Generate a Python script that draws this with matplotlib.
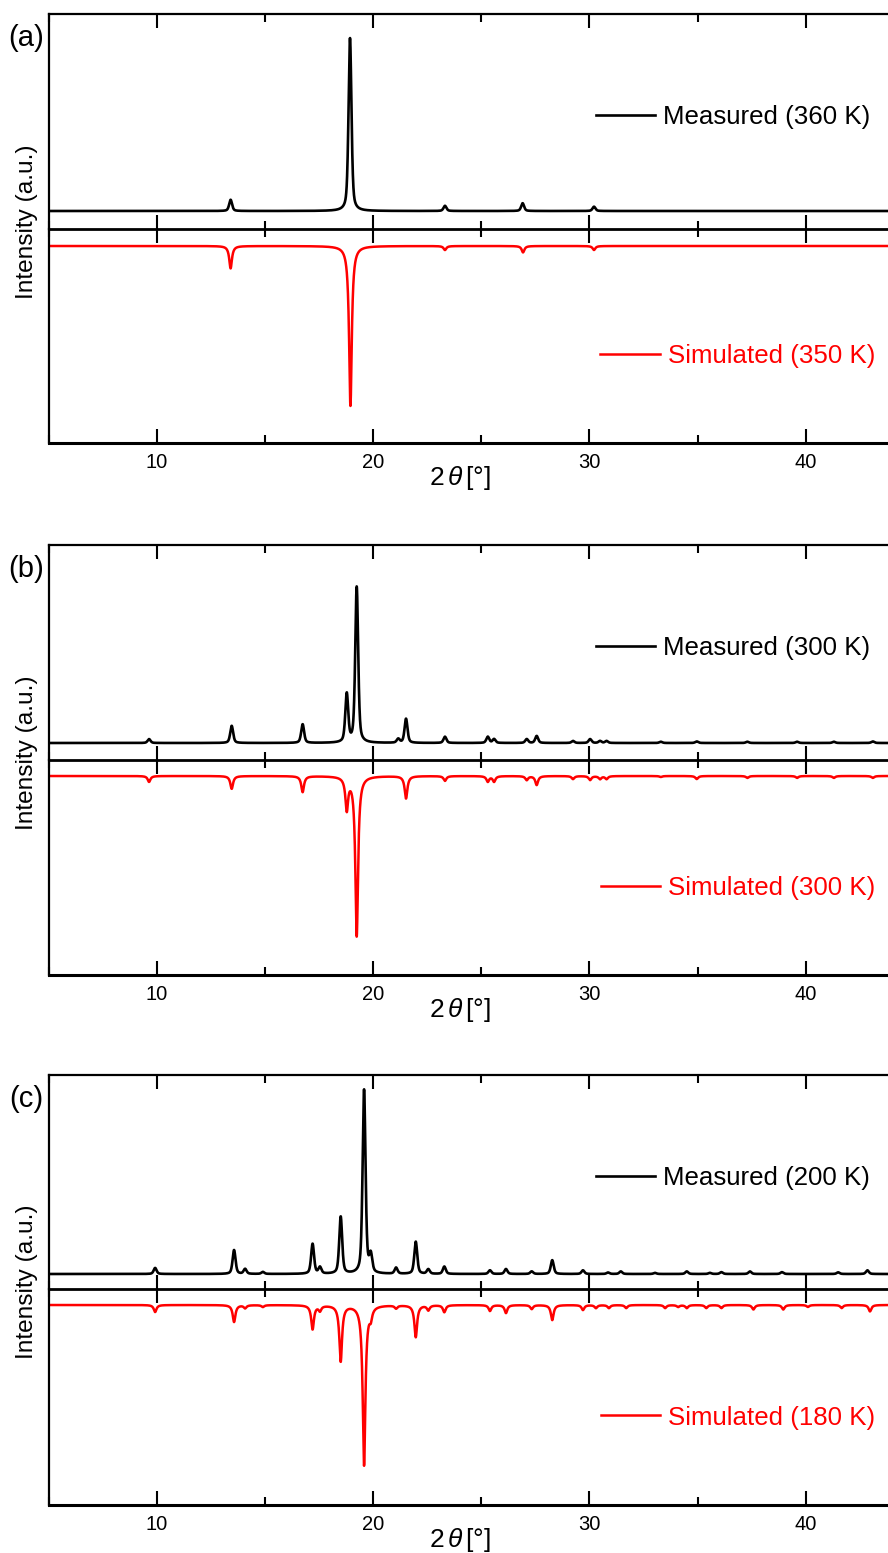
import numpy as np
import matplotlib.pyplot as plt
from matplotlib.ticker import MultipleLocator

plt.rcParams['font.family'] = ['Liberation Sans', 'DejaVu Sans']
plt.rcParams['mathtext.fontset'] = 'custom'
plt.rcParams['mathtext.rm'] = 'Liberation Sans'
plt.rcParams['mathtext.it'] = 'Liberation Sans:italic'

# peak tables: 2theta [deg], height [% of strongest peak]
meas_pos_a = [13.41, 18.93, 23.32, 26.91, 30.21]
meas_int_a = [6.5, 100, 3.0, 4.5, 2.5]
sim_pos_a = [13.41, 18.95, 23.32, 26.93, 30.21]
sim_int_a = [14, 100, 2.5, 4.0, 2.5]

meas_pos_b = [9.64, 13.46, 16.74, 18.78, 19.24, 21.16, 21.52, 23.32, 25.30, 25.59,
              27.10, 27.56, 29.24, 30.03, 30.49, 30.79, 33.3, 34.96, 37.3, 39.6,
              41.3, 43.1]
meas_int_b = [2.5, 11, 12, 31, 100, 2.5, 15.5, 4.0, 4.0, 2.5,
              2.5, 4.5, 1.3, 2.5, 1.3, 1.3, 0.8, 1.0, 0.8, 0.8,
              0.8, 1.0]
sim_pos_b = [9.64, 13.46, 16.74, 18.78, 19.24, 21.52, 23.32, 25.30, 25.59, 27.10,
             27.56, 29.24, 30.03, 30.49, 30.79, 33.3, 34.96, 37.3, 39.6, 41.3,
             43.1]
sim_int_b = [3.7, 8, 10, 20, 100, 14, 3.0, 3.5, 3.5, 2.5,
             5.6, 1.9, 2.5, 1.9, 1.9, 0.6, 1.9, 1.2, 1.2, 1.2,
             1.2]

meas_pos_c = [9.92, 13.57, 14.08, 14.9, 17.2, 17.54, 18.5, 19.58, 19.89, 21.06,
              21.97, 22.55, 23.29, 25.4, 26.14, 27.33, 28.28, 29.7, 30.86, 31.45,
              33.03, 34.5, 35.57, 36.1, 37.42, 38.9, 41.5, 42.85]
meas_int_c = [3.3, 13, 2.7, 1.1, 16.3, 3.5, 31, 100, 9.4, 3.3,
              17.5, 2.5, 4.0, 2.0, 2.7, 1.4, 7.5, 2.0, 0.8, 1.4,
              0.6, 1.4, 0.6, 1.0, 1.4, 1.0, 0.9, 2.0]
sim_pos_c = [9.92, 13.57, 14.08, 14.9, 17.2, 17.54, 18.5, 19.58, 19.89, 21.06,
             21.97, 22.55, 23.29, 25.4, 26.14, 27.33, 28.28, 29.7, 30.3, 30.9,
             31.7, 33.5, 34.1, 34.5, 35.4, 36.1, 37.58, 38.96, 40.1, 41.66,
             42.97]
sim_int_c = [4.4, 10.6, 1.9, 1.2, 15, 3.2, 35, 100, 6.0, 1.9,
             20, 3.1, 4.4, 3.7, 5.0, 2.5, 9.4, 3.1, 1.9, 1.9,
             1.9, 1.9, 1.2, 1.9, 1.9, 1.9, 2.8, 2.8, 1.2, 1.9,
             4.0]

panel_tags = ['(a)', '(b)', '(c)']
meas_labels = ['Measured (360 K)', 'Measured (300 K)', 'Measured (200 K)']
sim_labels = ['Simulated (350 K)', 'Simulated (300 K)', 'Simulated (180 K)']

meas_peaks = [(meas_pos_a, meas_int_a), (meas_pos_b, meas_int_b), (meas_pos_c, meas_int_c)]
sim_peaks = [(sim_pos_a, sim_int_a), (sim_pos_b, sim_int_b), (sim_pos_c, sim_int_c)]


def profile(tt, pos, amp, fwhm, eta):
    # pseudo-Voigt sum of the peak table
    y = np.zeros_like(tt)
    hw = fwhm / 2.
    for p, a in zip(pos, amp):
        d = (tt - p) / hw
        y += a * (eta / (1. + d**2) + (1. - eta) * np.exp(-np.log(2.) * d**2))
    return y


W, H = 888., 1553.
fig = plt.figure(figsize=(W / 100., H / 100.), dpi=100)

x0 = 48.7 / W
tops = [14, 545, 1075]
mids = [229, 760, 1289]
bots = [443, 975, 1505]
# baseline offset / peak height in pixels (measured, simulated)
meas_px = [(18, 173), (17, 156), (15, 184)]
sim_px = [(17, 160), (16, 160), (16, 160)]

tt = np.linspace(5., 44., 6000)

for i in range(3):
    top, mid, bot = tops[i], mids[i], bots[i]
    ax_m = fig.add_axes([x0, 1 - mid / H, 1 - x0, (mid - top) / H])
    ax_s = fig.add_axes([x0, 1 - bot / H, 1 - x0, (bot - mid) / H], sharex=ax_m)
    ax_s.patch.set_visible(False)

    ym = profile(tt, meas_peaks[i][0], meas_peaks[i][1], 0.16, 0.5)
    ys = profile(tt, sim_peaks[i][0], sim_peaks[i][1], 0.15, 1.0)

    ax_m.plot(tt, ym, c='k', lw=1.9, label=meas_labels[i])
    ax_s.plot(tt, -ys, c='#ff0000', lw=1.8, label=sim_labels[i])

    b, h = meas_px[i]
    ax_m.set_ylim(-b / h * 100., (mid - top - b) / h * 100.)
    s, d = sim_px[i]
    ax_s.set_ylim(-(bot - mid - s) / d * 100., s / d * 100.)
    ax_m.set_xlim(5., 5. + (W - 48.7) / 21.63)

    for ax in (ax_m, ax_s):
        ax.set_yticks([])
        ax.spines['right'].set_visible(False)
        for sp in ax.spines.values():
            sp.set_linewidth(1.6)
        ax.xaxis.set_major_locator(MultipleLocator(10))
        ax.xaxis.set_minor_locator(MultipleLocator(5))
        ax.tick_params(axis='x', which='both', direction='in', top=True, bottom=True,
                       width=1.5, labelsize=14.5, pad=7)
        ax.tick_params(axis='x', which='major', length=10)
        ax.tick_params(axis='x', which='minor', length=5.6)
    ax_m.tick_params(axis='x', labelbottom=False)
    ax_m.spines['bottom'].set_linewidth(2.0)
    ax_s.spines['top'].set_visible(False)
    ax_s.spines['bottom'].set_linewidth(2.2)

    ax_m.legend(loc='center right', bbox_to_anchor=(0.9785, 0.52), frameon=False,
                handlelength=2.3, handletextpad=0.3, borderpad=0, borderaxespad=0,
                fontsize=18.6)
    ax_s.legend(loc='center right', bbox_to_anchor=(0.9845, 0.405), frameon=False,
                handlelength=2.3, handletextpad=0.3, borderpad=0, borderaxespad=0,
                fontsize=18.6, labelcolor='#ff0000')

    fig.text(26 / W, 1 - (top + 24) / H, panel_tags[i], fontsize=21,
             ha='center', va='center')
    fig.text(27 / W, 1 - (mid - 7) / H, 'Intensity (a.u.)', fontsize=17.6,
             rotation=90, ha='center', va='center')
    fig.text(460 / W, 1 - (bot + 35) / H, r'2$\,\theta\,$[°]', fontsize=19,
             ha='center', va='center')

plt.savefig('out.png', dpi=100)
